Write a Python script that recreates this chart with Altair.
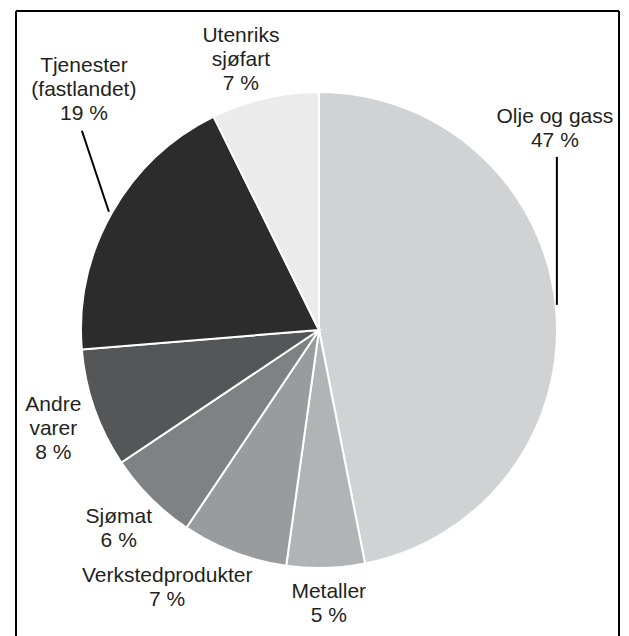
import altair as alt
import pandas as pd

# ---- data ----
categories = ["Olje og gass", "Metaller", "Verkstedprodukter", "Sjømat",
              "Andre varer", "Tjenester (fastlandet)", "Utenriks sjøfart"]
label_names = ["Olje og gass", "Metaller", "Verkstedprodukter", "Sjømat",
               "Andre|varer", "Tjenester|(fastlandet)", "Utenriks|sjøfart"]
values = [46.9, 5.3, 7.2, 6.2, 8.1, 19.0, 7.3]

# ---- style / layout ----
colors = ["#d1d2d4", "#b2b3b5", "#9a9b9e", "#808184", "#555658", "#2d2c2d", "#ebebeb"]
W, H = 603, 625
CX, CY, R = 303, 319, 238
FONT = "Liberation Sans"
FS = 21
TXT = "#231f20"
# label offset (dx, dy) from the slice's mid-angle point on the rim
label_offset = {
    "Olje og gass": (-1, -184),
    "Metaller": (3, 30),
    "Verkstedprodukter": (-67, 30),
    "Sjømat": (-32, 25),
    "Andre varer": (-41, 2),
    "Tjenester (fastlandet)": (-28, -141),
    "Utenriks sjøfart": (-24, -56),
}
# leader lines: (start dx, start dy, end dx, end dy) from rim mid point
leaders = {
    "Olje og gass": (1, -2, 1, -150),
    "Tjenester (fastlandet)": (-3, -1, -30, -82),
}

df = pd.DataFrame({"cat": categories, "name": label_names,
                   "value": values, "idx": list(range(len(values)))})

base = (
    alt.Chart(df)
    .transform_joinaggregate(total="sum(value)")
    .transform_window(cum="sum(value)", sort=[alt.SortField("idx")], frame=[None, 0])
    .transform_calculate(
        mid="2*PI*(datum.cum - datum.value/2)/datum.total",
        lines="split(datum.name + '|' + format(round(datum.value), 'd') + ' %', '|')",
    )
)

pie = alt.Chart(df).mark_arc(outerRadius=R, stroke="white", strokeWidth=2).encode(
    theta=alt.Theta("value:Q", stack=True),
    order=alt.Order("idx:Q"),
    color=alt.Color("cat:N", scale=alt.Scale(domain=categories, range=colors), legend=None),
    x=alt.value(CX),
    y=alt.value(CY),
)

layers = [pie]

for cat, (dx, dy) in label_offset.items():
    t = (
        base.transform_filter(alt.datum.cat == cat)
        .mark_text(radius=R, dx=dx, dy=dy, align="center", baseline="alphabetic",
                   font=FONT, fontSize=FS, lineHeight=24, color=TXT)
        .encode(
            theta=alt.Theta("mid:Q", scale=None, stack=False),
            text=alt.Text("lines:N"),
            x=alt.value(CX),
            y=alt.value(CY),
        )
    )
    layers.append(t)

for cat, (sx, sy, ex, ey) in leaders.items():
    ln = (
        base.transform_filter(alt.datum.cat == cat)
        .transform_calculate(
            ax=f"{CX} + {R}*sin(datum.mid) + ({sx})",
            ay=f"{CY} - {R}*cos(datum.mid) + ({sy})",
            bx=f"{CX} + {R}*sin(datum.mid) + ({ex})",
            by=f"{CY} - {R}*cos(datum.mid) + ({ey})",
        )
        .mark_rule(color="black", strokeWidth=2)
        .encode(
            x=alt.X("ax:Q", scale=None, axis=None),
            y=alt.Y("ay:Q", scale=None, axis=None),
            x2="bx:Q",
            y2="by:Q",
        )
    )
    layers.append(ln)

one = pd.DataFrame({"k": [0]})
frame_left = alt.Chart(one).mark_rule(color="black", strokeWidth=2).encode(
    x=alt.value(0), y=alt.value(0), y2=alt.value(H + 20))
frame_top = alt.Chart(one).mark_rule(color="black", strokeWidth=2).encode(
    x=alt.value(0), x2=alt.value(W), y=alt.value(0))
frame_right = alt.Chart(one).mark_rule(color="black", strokeWidth=2).encode(
    x=alt.value(W), y=alt.value(0), y2=alt.value(H + 20))

chart = (
    alt.layer(*layers, frame_left, frame_top, frame_right)
    .properties(width=W, height=H, autosize="none",
                padding={"left": 8, "top": 3, "right": 2, "bottom": 0},
                background="white")
    .configure_view(stroke=None)
)

chart.save("out.html", embed_options={"renderer": "svg", "actions": False})
